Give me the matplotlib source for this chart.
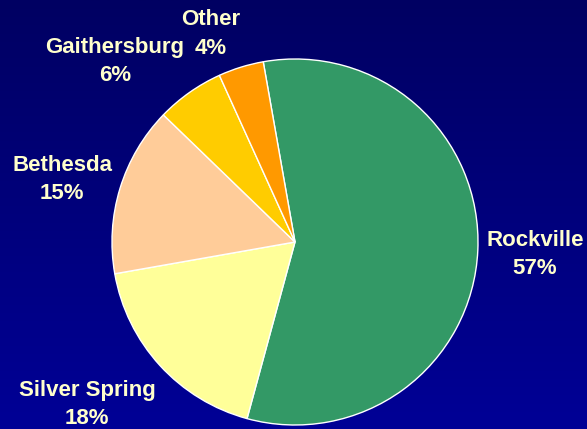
import numpy as np
import matplotlib.pyplot as plt
from matplotlib.colors import LinearSegmentedColormap

cities = ['Rockville', 'Silver Spring', 'Bethesda', 'Gaithersburg', 'Other']
shares = [57, 18, 15, 6, 4]
colors = ['#339966', '#FFFF99', '#FFCC99', '#FFCC00', '#FF9900']

# label positions in radius units (relative to pie centre)
label_pos = [(1.311, -0.07), (-1.137, -0.89), (-1.273, 0.34),
             (-0.984, 0.985), (-0.459, 1.137)]

fig = plt.figure(figsize=(5.87, 4.29), dpi=100)

# gradient background
bg = fig.add_axes([0, 0, 1, 1])
cmap = LinearSegmentedColormap.from_list('bg', ['#000062', '#000096'])
grad = np.linspace(0, 1, 256).reshape(-1, 1)
bg.imshow(grad, aspect='auto', cmap=cmap, extent=[0, 1, 0, 1], origin='upper')
bg.axis('off')

ax = fig.add_axes([0, 0, 1, 1])
ax.patch.set_alpha(0)
wedges, texts = ax.pie(shares, colors=colors, startangle=100, counterclock=False,
                       wedgeprops=dict(edgecolor='white', linewidth=1),
                       labels=[f'{c}\n{s}%' for c, s in zip(cities, shares)],
                       textprops=dict(color='#FFFFCC', fontsize=16, fontweight='bold',
                                      family='Liberation Sans', ha='center', va='center',
                                      multialignment='center', linespacing=1.45))
for t, p in zip(texts, label_pos):
    t.set_position(p)
    t.set_horizontalalignment('center')

ax.set_aspect('auto')
ax.set_xlim(-295 / 183, (587 - 295) / 183)
ax.set_ylim(-(429 - 242) / 183, 242 / 183)
ax.axis('off')

fig.savefig('out.png', dpi=100)
